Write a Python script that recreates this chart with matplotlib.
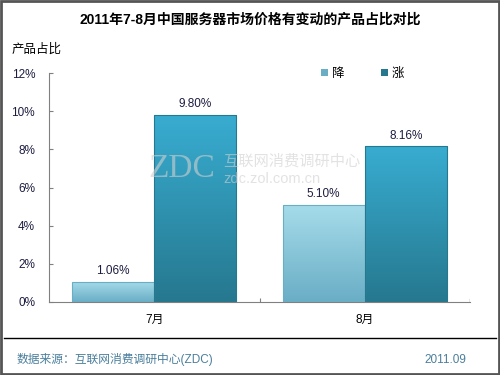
import matplotlib
matplotlib.use("Agg")
import matplotlib.pyplot as plt
import numpy as np
from matplotlib.lines import Line2D
from matplotlib.patches import Rectangle

plt.rcParams['font.family'] = ['Liberation Sans', 'Noto Sans CJK SC']

months = ["7月", "8月"]
series = ["降", "涨"]
down = [1.06, 5.10]
up = [9.80, 8.16]
yticks = [0, 2, 4, 6, 8, 10, 12]

title = "2011年7-8月中国服务器市场价格有变动的产品占比对比"
ylabel = "产品占比"
source = "数据来源：互联网消费调研中心(ZDC)"
date = "2011.09"

col_down = ("#a6dcea", "#6aaec6")   # top, bottom of gradient
col_up = ("#38acd0", "#26788f")

fig = plt.figure(figsize=(5, 3.75), dpi=100)
ax = fig.add_axes([0.098, 0.195, 0.842, 0.61])

x = np.arange(len(months))
w = 0.39
b1 = ax.bar(x - w / 2, down, w, color=col_down[1], label=series[0], zorder=2)
b2 = ax.bar(x + w / 2, up, w, color=col_up[1], label=series[1], zorder=2)


def shade(bars, cols):
    # vertical gradient fill clipped to each bar
    grad = np.linspace(0, 1, 64).reshape(-1, 1)
    cmap = matplotlib.colors.LinearSegmentedColormap.from_list("g", [cols[1], cols[0]])
    for r in bars:
        bx, by, bw, bh = r.get_x(), r.get_y(), r.get_width(), r.get_height()
        im = ax.imshow(grad, cmap=cmap, origin="lower", aspect="auto",
                       extent=[bx, bx + bw, by, by + bh], zorder=3)
        im.set_clip_path(r)
        ax.add_patch(Rectangle((bx, by), bw, bh, fill=False,
                               edgecolor=cols[1], lw=0.8, zorder=4))


shade(b1, col_down)
shade(b2, col_up)

for bars, vals in ((b1, down), (b2, up)):
    for r, v in zip(bars, vals):
        ax.text(r.get_x() + r.get_width() / 2, v + 0.25, f"{v:.2f}%",
                ha="center", va="bottom", fontsize=8.5, color="#1c1c40", zorder=5)

ax.set_xlim(-0.5, 1.5)
ax.set_ylim(0, 12)
ax.set_yticks(yticks)
ax.set_yticklabels([f"{t}%" for t in yticks], fontsize=8.5, color="#1c1c40")
ax.set_xticks([0.5])
ax.set_xticklabels([""])
for xi, m in zip(x, months):
    ax.text(xi, -0.95, m, ha="center", va="center", fontsize=8.5, color="black")
ax.tick_params(axis="y", direction="in", length=3, color="#808080", pad=10)
ax.tick_params(axis="x", direction="in", length=3, color="#808080")
ax.axvline(1.5, ymin=0, ymax=0.013, color="#808080", lw=1)
for s in ("top", "right"):
    ax.spines[s].set_visible(False)
for s in ("left", "bottom"):
    ax.spines[s].set_color("#808080")
ax.patch.set_alpha(0)

ax.legend(handles=[b1, b2], loc="center", bbox_to_anchor=(0.725, 0.803),
          bbox_transform=fig.transFigure, ncol=2, frameon=False,
          handlelength=0.6, handleheight=0.6, columnspacing=2.9,
          handletextpad=0.3, fontsize=9)

# watermark
fig.text(0.296, 0.549, "ZDC", family="Liberation Serif", fontsize=24,
         color="#d0d0d0", alpha=0.6, va="center", zorder=10)
fig.text(0.446, 0.570, "互联网消费调研中心", fontsize=11, color="#d0d0d0",
         alpha=0.6, va="center", zorder=10)
fig.text(0.446, 0.523, "zdc.zol.com.cn", fontsize=10.5, color="#d0d0d0",
         alpha=0.6, va="center", zorder=10)

fig.text(0.5, 0.947, title, ha="center", va="center", fontsize=10,
         fontweight="bold")
fig.text(0.024, 0.867, ylabel, ha="left", va="center", fontsize=9)
fig.text(0.034, 0.04, source, ha="left", va="center", fontsize=8.5,
         color="#4a7f9c")
fig.text(0.932, 0.04, date, ha="right", va="center", fontsize=8.5,
         color="#4a7f9c")

fig.add_artist(Line2D([0.008, 0.992], [0.099, 0.099], color="black", lw=1,
                      transform=fig.transFigure))
fig.add_artist(Rectangle((0.002, 0.003), 0.995, 0.994, fill=False,
                         edgecolor="#555555", lw=2, transform=fig.transFigure))

fig.savefig("out.png", dpi=100)
